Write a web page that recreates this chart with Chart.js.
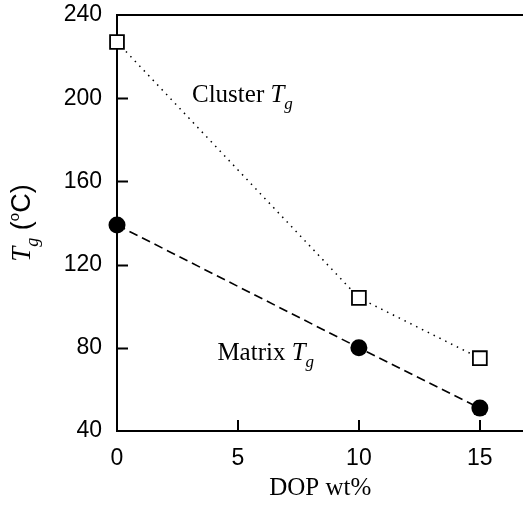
<!DOCTYPE html>
<html>
<head>
<meta charset="utf-8">
<script src="https://cdn.jsdelivr.net/npm/chart.js@4"></script>
<style>
  html, body { margin: 0; padding: 0; background: #fff; overflow: hidden; }
  canvas { display: block; }
</style>
</head>
<body>
<!-- a bit wider than the window so the open right side of the frame runs off the edge -->
<canvas id="tgChart" width="535" height="505"></canvas>
<script>
// DATA
const dopWt = [0, 10, 15];
const clusterTg = [227, 104, 75];
const matrixTg = [139, 80, 51];
const xTicks = [0, 5, 10, 15];
const yTicks = [40, 80, 120, 160, 200, 240];

const SANS = "'Liberation Sans', Arial, sans-serif";
const SERIF = "'Liberation Serif', 'Times New Roman', serif";

function toPoints(xs, ys) {
  return xs.map((x, i) => ({ x: x, y: ys[i] }));
}

// frame, inward ticks, in-plot labels and y title
const extras = {
  id: 'extras',
  afterDraw(chart) {
    const ctx = chart.ctx;
    const area = chart.chartArea;
    const xs = chart.scales.x;
    const ys = chart.scales.y;
    ctx.save();
    ctx.strokeStyle = '#000';
    ctx.lineWidth = 2;

    // top frame line
    ctx.beginPath();
    ctx.moveTo(area.left, area.top);
    ctx.lineTo(chart.width, area.top);
    ctx.moveTo(area.right, area.bottom);
    ctx.lineTo(chart.width, area.bottom);
    ctx.stroke();

    // inward ticks
    ctx.beginPath();
    yTicks.slice(1, -1).forEach(v => {
      const py = Math.round(ys.getPixelForValue(v)) + 0.5;
      ctx.moveTo(area.left, py);
      ctx.lineTo(area.left + 11, py);
    });
    xTicks.slice(1).forEach(v => {
      const px = Math.round(xs.getPixelForValue(v));
      ctx.moveTo(px, area.bottom);
      ctx.lineTo(px, area.bottom - 11);
    });
    ctx.stroke();

    // series labels
    ctx.fillStyle = '#000';
    ctx.textBaseline = 'alphabetic';
    function tgLabel(word, xv, yv) {
      let px = xs.getPixelForValue(xv);
      const py = ys.getPixelForValue(yv);
      ctx.font = '25px ' + SERIF;
      ctx.textAlign = 'left';
      ctx.fillText(word + ' ', px, py);
      px += ctx.measureText(word + ' ').width;
      ctx.font = 'italic 25px ' + SERIF;
      ctx.fillText('T', px, py);
      px += ctx.measureText('T').width;
      ctx.font = 'italic 17px ' + SERIF;
      ctx.fillText('g', px, py + 7);
    }
    tgLabel('Cluster', 3.1, 198);
    tgLabel('Matrix', 4.15, 74);

    // y axis title, rotated
    ctx.translate(30, (area.top + area.bottom) / 2);
    ctx.rotate(-Math.PI / 2);
    const parts = [
      { t: 'T', f: 'italic 27px ' + SERIF, dy: 0 },
      { t: 'g', f: 'italic 18px ' + SERIF, dy: 8 },
      { t: ' (', f: '27px ' + SANS, dy: 0 },
      { t: 'o', f: '15px ' + SANS, dy: -11 },
      { t: 'C)', f: '27px ' + SANS, dy: 0 }
    ];
    let total = 0;
    parts.forEach(p => { ctx.font = p.f; total += ctx.measureText(p.t).width; });
    let cx = -total / 2;
    parts.forEach(p => {
      ctx.font = p.f;
      ctx.fillText(p.t, cx, p.dy);
      cx += ctx.measureText(p.t).width;
    });
    ctx.restore();
  }
};

new Chart(document.getElementById('tgChart'), {
  type: 'line',
  data: {
    datasets: [
      {
        label: 'Cluster Tg',
        data: toPoints(dopWt, clusterTg),
        borderColor: '#000',
        borderWidth: 1.5,
        borderDash: [1.5, 5],
        pointStyle: 'rect',
        pointRadius: 9.8,
        pointBorderWidth: 1.8,
        pointBackgroundColor: '#fff',
        pointBorderColor: '#000',
        tension: 0,
        clip: false
      },
      {
        label: 'Matrix Tg',
        data: toPoints(dopWt, matrixTg),
        borderColor: '#000',
        borderWidth: 1.6,
        borderDash: [9, 5],
        pointStyle: 'circle',
        pointRadius: 8.5,
        pointBorderWidth: 0,
        pointBackgroundColor: '#000',
        tension: 0,
        clip: false
      }
    ]
  },
  options: {
    responsive: false,
    animation: false,
    layout: { padding: { top: 15, right: 0, left: 0, bottom: 0 } },
    plugins: { legend: { display: false }, tooltip: { enabled: false } },
    scales: {
      x: {
        type: 'linear',
        min: 0,
        max: 16.8,
        afterBuildTicks: s => { s.ticks = xTicks.map(v => ({ value: v })); },
        afterFit: s => { s.height = 74; s.paddingLeft = 0; s.paddingRight = 0; },
        grid: { display: false, drawTicks: false },
        border: { display: true, color: '#000', width: 2 },
        ticks: {
          color: '#000',
          padding: 14,
          maxRotation: 0,
          font: { family: SANS, size: 23 }
        },
        title: {
          display: true,
          text: 'DOP wt%',
          color: '#000',
          font: { family: SERIF, size: 25 },
          padding: { top: 0, bottom: 2 }
        }
      },
      y: {
        type: 'linear',
        min: 40,
        max: 240,
        afterBuildTicks: s => { s.ticks = yTicks.map(v => ({ value: v })); },
        afterFit: s => { s.width = 117; s.paddingTop = 0; s.paddingBottom = 0; },
        grid: { display: false, drawTicks: false },
        border: { display: true, color: '#000', width: 2 },
        ticks: {
          color: '#000',
          padding: 15,
          font: { family: SANS, size: 23 }
        }
      }
    }
  },
  plugins: [extras]
});
</script>
</body>
</html>
